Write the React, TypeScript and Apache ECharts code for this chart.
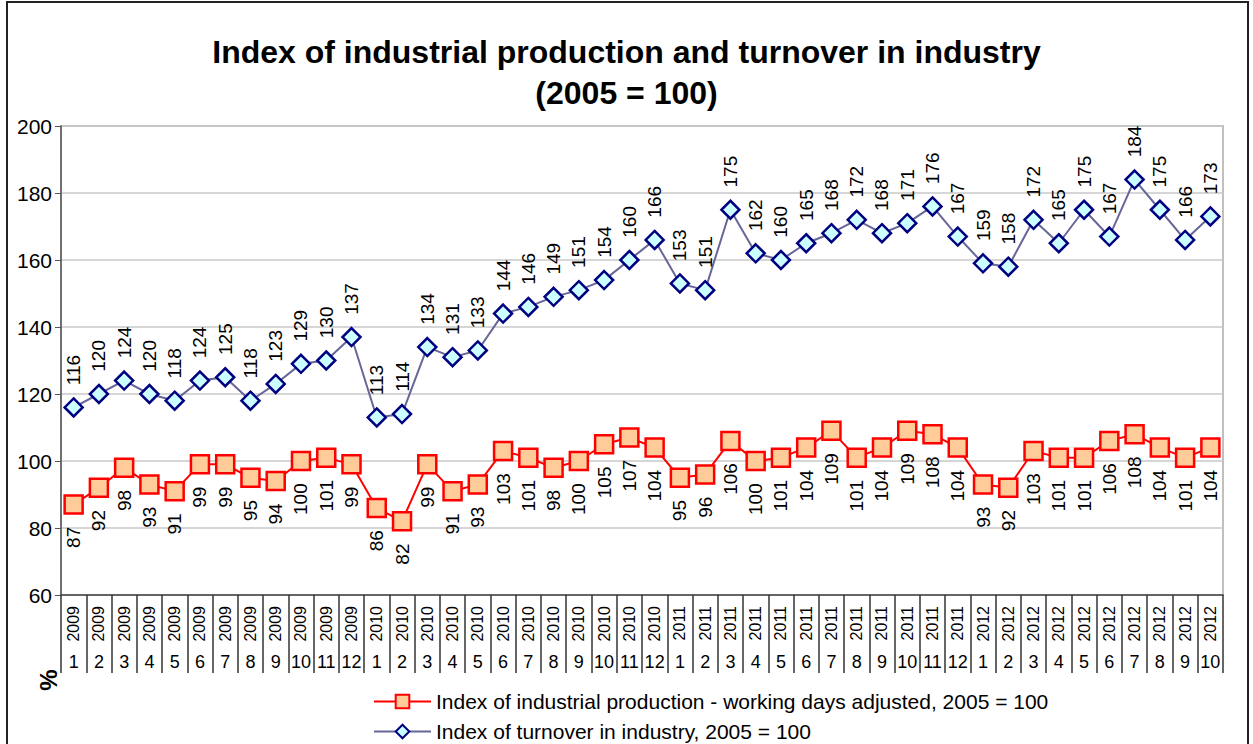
import React, { useEffect, useRef } from "react";
import * as echarts from "echarts";

const years: string[] = [
  "2009","2009","2009","2009","2009","2009","2009","2009","2009","2009","2009","2009",
  "2010","2010","2010","2010","2010","2010","2010","2010","2010","2010","2010","2010",
  "2011","2011","2011","2011","2011","2011","2011","2011","2011","2011","2011","2011",
  "2012","2012","2012","2012","2012","2012","2012","2012","2012","2012",
];
const months: string[] = [
  "1","2","3","4","5","6","7","8","9","10","11","12",
  "1","2","3","4","5","6","7","8","9","10","11","12",
  "1","2","3","4","5","6","7","8","9","10","11","12",
  "1","2","3","4","5","6","7","8","9","10",
];
const production: number[] = [
  87, 92, 98, 93, 91, 99, 99, 95, 94, 100, 101, 99,
  86, 82, 99, 91, 93, 103, 101, 98, 100, 105, 107, 104,
  95, 96, 106, 100, 101, 104, 109, 101, 104, 109, 108, 104,
  93, 92, 103, 101, 101, 106, 108, 104, 101, 104,
];
const turnover: number[] = [
  116, 120, 124, 120, 118, 124, 125, 118, 123, 129, 130, 137,
  113, 114, 134, 131, 133, 144, 146, 149, 151, 154, 160, 166,
  153, 151, 175, 162, 160, 165, 168, 172, 168, 171, 176, 167,
  159, 158, 172, 165, 175, 167, 184, 175, 166, 173,
];
const yTicks = { min: 60, max: 200, interval: 20 };
const titleLines = ["Index of industrial production and turnover in industry", "(2005 = 100)"];
const seriesNames = [
  "Index of industrial production - working days adjusted, 2005 = 100",
  "Index of turnover in industry, 2005 = 100",
];

const FONT = "'Liberation Sans', Arial, sans-serif";

export default function App() {
  const ref = useRef<HTMLDivElement>(null);
  useEffect(() => {
    if (!ref.current) return;
    const chart = echarts.init(ref.current, undefined, { renderer: "svg" });
    chart.setOption({
      animation: false,
      backgroundColor: "#ffffff",
      textStyle: { fontFamily: FONT },
      title: {
        text: titleLines.join("\n"),
        left: "center",
        top: 26,
        textStyle: { fontFamily: FONT, fontSize: 32, fontWeight: "bold", color: "#000", lineHeight: 41 },
      },
      grid: {
        left: 61, right: 30, top: 126, bottom: 149,
        show: true, borderColor: "#c0c0c0", borderWidth: 2, backgroundColor: "transparent",
      },
      legend: {
        orient: "vertical",
        left: 368,
        top: 686,
        height: 120,
        itemGap: 9,
        itemWidth: 57,
        itemHeight: 17,
        textStyle: { fontFamily: FONT, fontSize: 21, color: "#000" },
        data: seriesNames,
      },
      xAxis: [
        {
          type: "category",
          data: years,
          position: "bottom",
          boundaryGap: true,
          axisLine: { show: true, lineStyle: { color: "#444", width: 1.5 } },
          axisTick: { show: true, length: 78, lineStyle: { color: "#333", width: 1.5 }, interval: 0 },
          axisLabel: { interval: 0, rotate: 90, margin: 11, fontSize: 16, color: "#000", fontFamily: FONT },
          splitLine: { show: false },
        },
        {
          type: "category",
          data: months,
          position: "bottom",
          boundaryGap: true,
          axisLine: { show: false },
          axisTick: { show: false },
          axisLabel: { interval: 0, margin: 58, fontSize: 18, color: "#000", fontFamily: FONT },
          splitLine: { show: false },
        },
      ],
      yAxis: {
        type: "value",
        min: yTicks.min,
        max: yTicks.max,
        interval: yTicks.interval,
        axisLine: { show: true, lineStyle: { color: "#555", width: 1.5 } },
        axisTick: { show: true, length: 6, lineStyle: { color: "#555" } },
        axisLabel: { fontSize: 21, color: "#000", margin: 9, fontFamily: FONT },
        splitLine: { show: true, lineStyle: { color: "#c8c8c8", width: 1.5 } },
      },
      series: [
        {
          name: seriesNames[0],
          type: "line",
          xAxisIndex: 0,
          data: production,
          symbol: "rect",
          symbolSize: 18,
          lineStyle: { color: "#ff0000", width: 2 },
          itemStyle: { color: "#ffcc99", borderColor: "#ff0000", borderWidth: 2.5 },
          label: {
            show: true,
            position: "bottom",
            distance: 12,
            rotate: 90,
            align: "right",
            verticalAlign: "middle",
            fontSize: 19,
            color: "#000",
            fontFamily: FONT,
          },
          z: 3,
        },
        {
          name: seriesNames[1],
          type: "line",
          xAxisIndex: 0,
          data: turnover,
          symbol: "diamond",
          symbolSize: 18,
          lineStyle: { color: "#666699", width: 2 },
          itemStyle: { color: "#ccffff", borderColor: "#000080", borderWidth: 2.5 },
          label: {
            show: true,
            position: "top",
            distance: 12,
            rotate: 90,
            align: "left",
            verticalAlign: "middle",
            fontSize: 19,
            color: "#000",
            fontFamily: FONT,
          },
          z: 3,
        },
      ],
      graphic: [
        {
          type: "rect",
          shape: { x: 7, y: 2, width: 1241, height: 760 },
          style: { fill: "none", stroke: "#222", lineWidth: 2 },
          silent: true,
        },
        {
          type: "text",
          x: 48,
          y: 680,
          rotation: Math.PI / 2,
          style: { text: "%", fontFamily: FONT, fontSize: 24, fontWeight: "bold", fill: "#000", align: "center", verticalAlign: "middle" },
        },
      ],
    });
    return () => chart.dispose();
  }, []);
  return <div ref={ref} style={{ position: "fixed", left: 0, top: 0, width: 1253, height: 744 }} />;
}
